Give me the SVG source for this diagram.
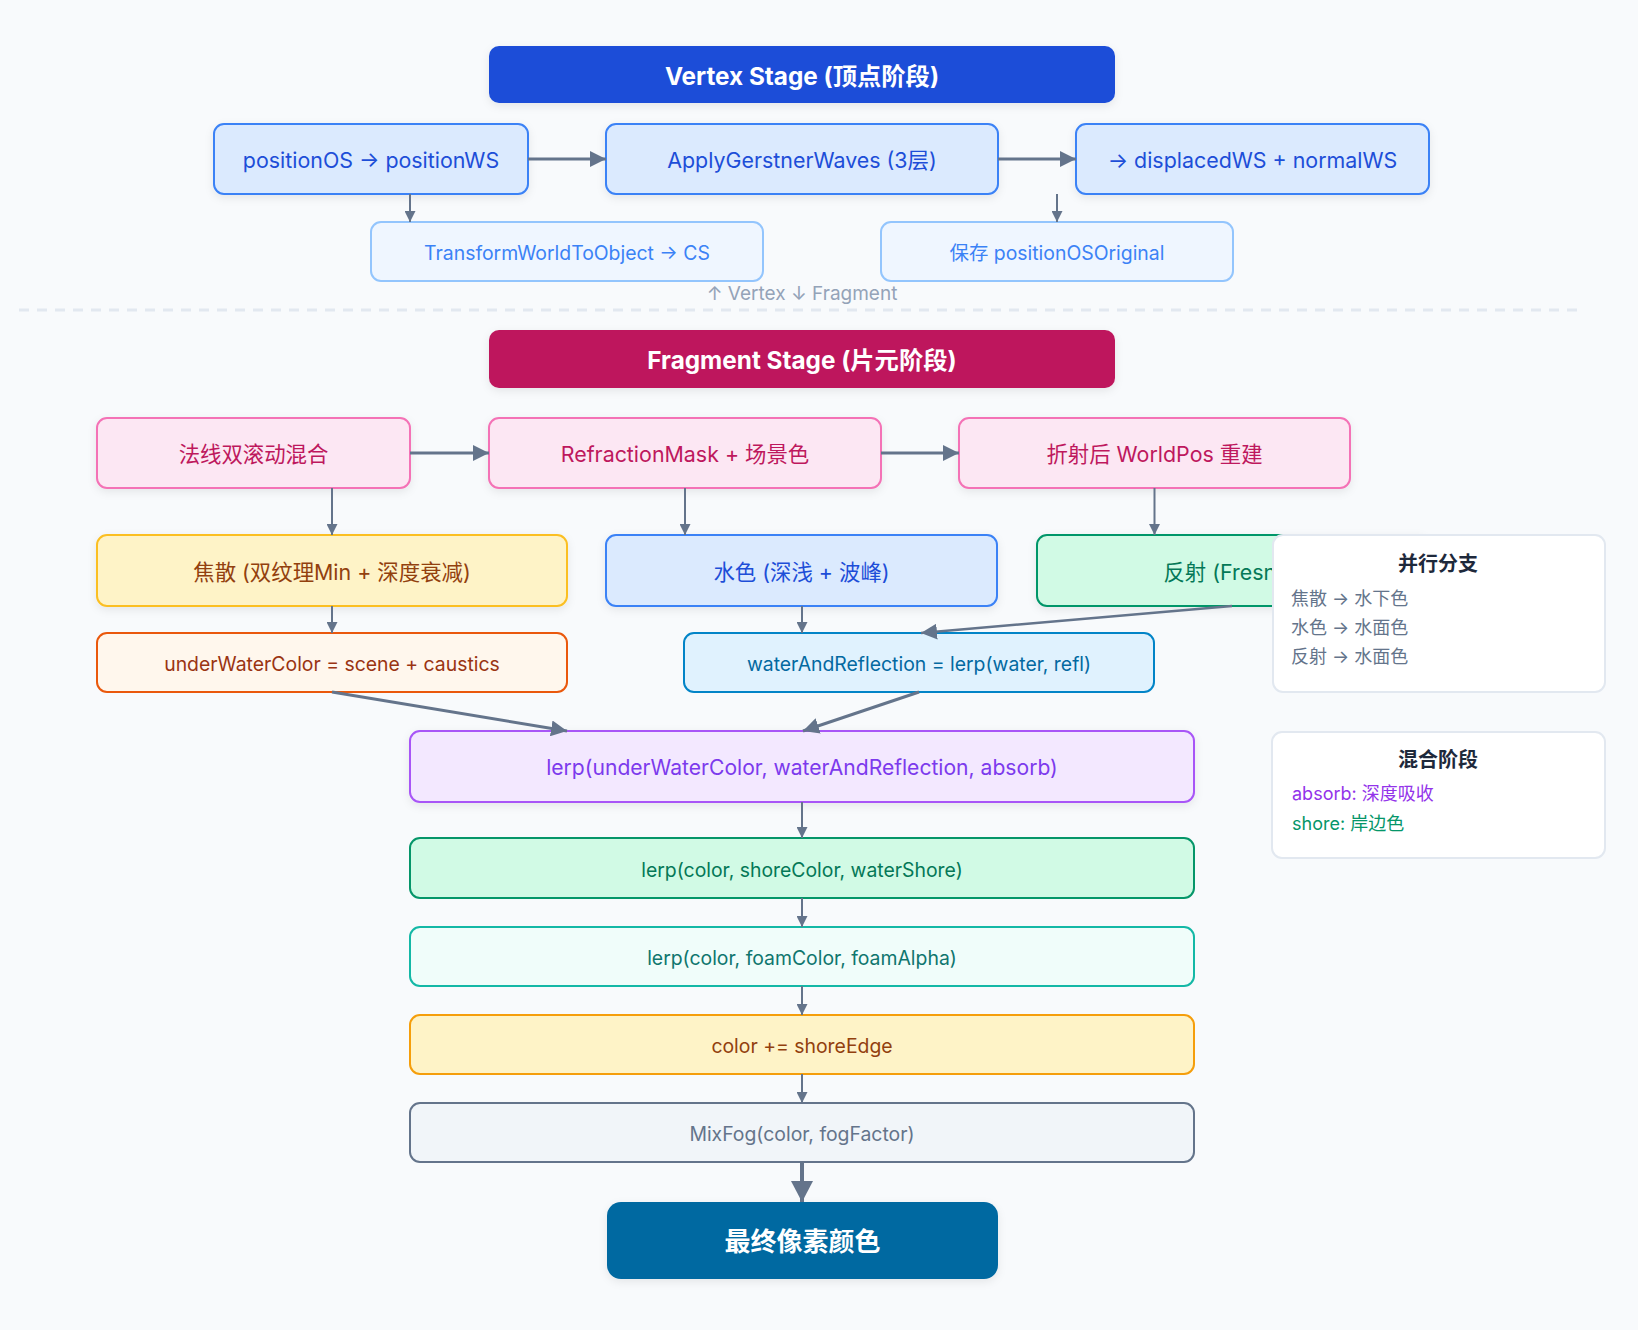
<svg xmlns="http://www.w3.org/2000/svg" width="1638" height="1330" viewBox="0 0 1638 1330">
<defs>
<style>
.t{font-family:Inter,"Noto Sans CJK SC",sans-serif;text-anchor:middle;dominant-baseline:central}
.b{stroke-width:2}
.hdr{font-weight:700;fill:#fff;font-size:24.3px}
.c{stroke:#64748b;fill:none}
.th{stroke-width:2}
.tk{stroke-width:3}
.r1{font-size:21.4px}
.r2{font-size:19.4px}
.lg{font-family:Inter,"Noto Sans CJK SC",sans-serif;font-size:18px}
</style>
<filter id="sh" x="-10%" y="-20%" width="120%" height="150%">
<feDropShadow dx="0" dy="3" stdDeviation="4" flood-color="#0f172a" flood-opacity="0.08"/>
</filter>
<marker id="a1" markerUnits="userSpaceOnUse" markerWidth="11" markerHeight="11" refX="11" refY="5.5" orient="auto"><path d="M0,0L11,5.5L0,11z" fill="#64748b"/></marker>
<marker id="a2" markerUnits="userSpaceOnUse" markerWidth="16" markerHeight="16" refX="16" refY="8" orient="auto"><path d="M0,0L16,8L0,16z" fill="#64748b"/></marker>
<marker id="a3" markerUnits="userSpaceOnUse" markerWidth="21" markerHeight="22" refX="21" refY="11" orient="auto"><path d="M0,0L21,11L0,22z" fill="#64748b"/></marker>
</defs>
<rect width="1638" height="1330" fill="#f8fafc"/>
<line x1="19" y1="310" x2="1577" y2="310" stroke="#e2e8f0" stroke-width="3" stroke-dasharray="10 8"/>
<text class="t" x="802" y="293" font-size="19" fill="#94a3b8">↑ Vertex ↓ Fragment</text>

<g id="vertex-header"><rect x="489" y="46" width="626" height="57" rx="10" fill="#1d4ed8" filter="url(#sh)"/><text class="t hdr" x="802" y="76">Vertex Stage (顶点阶段)</text></g>
<g id="v-position"><rect class="b" x="214" y="124" width="314" height="70" rx="10" fill="#dbeafe" stroke="#3b82f6" filter="url(#sh)"/><text class="t r1" x="371" y="160" fill="#1d4ed8">positionOS → positionWS</text></g>
<g id="v-gerstner"><rect class="b" x="606" y="124" width="392" height="70" rx="10" fill="#dbeafe" stroke="#3b82f6" filter="url(#sh)"/><text class="t r1" x="802" y="160" fill="#1d4ed8">ApplyGerstnerWaves (3层)</text></g>
<g id="v-displaced"><rect class="b" x="1076" y="124" width="353" height="70" rx="10" fill="#dbeafe" stroke="#3b82f6" filter="url(#sh)"/><text class="t r1" x="1252.5" y="160" fill="#1d4ed8">→ displacedWS + normalWS</text></g>
<g id="v-transform"><rect class="b" x="371" y="222" width="392" height="59" rx="10" fill="#eff6ff" stroke="#93c5fd"/><text class="t r2" x="567" y="253" fill="#3b82f6">TransformWorldToObject → CS</text></g>
<g id="v-save"><rect class="b" x="881" y="222" width="352" height="59" rx="10" fill="#eff6ff" stroke="#93c5fd"/><text class="t r2" x="1057" y="253" fill="#3b82f6">保存 positionOSOriginal</text></g>

<g id="fragment-header"><rect x="489" y="330" width="626" height="58" rx="10" fill="#be185d" filter="url(#sh)"/><text class="t hdr" x="802" y="360">Fragment Stage (片元阶段)</text></g>
<g id="f-normal"><rect class="b" x="97" y="418" width="313" height="70" rx="10" fill="#fce7f3" stroke="#f472b6" filter="url(#sh)"/><text class="t r1" x="253.5" y="454" fill="#be185d">法线双滚动混合</text></g>
<g id="f-refraction"><rect class="b" x="489" y="418" width="392" height="70" rx="10" fill="#fce7f3" stroke="#f472b6" filter="url(#sh)"/><text class="t r1" x="685" y="454" fill="#be185d">RefractionMask + 场景色</text></g>
<g id="f-worldpos"><rect class="b" x="959" y="418" width="391" height="70" rx="10" fill="#fce7f3" stroke="#f472b6" filter="url(#sh)"/><text class="t r1" x="1154.5" y="454" fill="#be185d">折射后 WorldPos 重建</text></g>
<g id="f-caustics"><rect class="b" x="97" y="535" width="470" height="71" rx="10" fill="#fef3c7" stroke="#fbbf24" filter="url(#sh)"/><text class="t r1" x="332" y="571.5" fill="#92400e">焦散 (双纹理Min + 深度衰减)</text></g>
<g id="f-watercolor"><rect class="b" x="606" y="535" width="391" height="71" rx="10" fill="#dbeafe" stroke="#3b82f6" filter="url(#sh)"/><text class="t r1" x="801.5" y="571.5" fill="#1d4ed8">水色 (深浅 + 波峰)</text></g>
<g id="f-reflection"><rect class="b" x="1037" y="535" width="391" height="71" rx="10" fill="#d1fae5" stroke="#059669" filter="url(#sh)"/><text class="t r1" x="1232.5" y="571.5" fill="#047857">反射 (Fresnel)</text></g>
<g id="f-underwater"><rect class="b" x="97" y="633" width="470" height="59" rx="10" fill="#fff7ed" stroke="#ea580c"/><text class="t r2" x="332" y="664" fill="#9a3412">underWaterColor = scene + caustics</text></g>
<g id="f-waterrefl"><rect class="b" x="684" y="633" width="470" height="59" rx="10" fill="#e0f2fe" stroke="#0284c7"/><text class="t r2" x="919" y="664" fill="#0369a1">waterAndReflection = lerp(water, refl)</text></g>
<g id="f-absorb"><rect class="b" x="410" y="731" width="784" height="71" rx="10" fill="#f3e8ff" stroke="#a855f7" filter="url(#sh)"/><text class="t" x="802" y="767.5" font-size="21.1" fill="#7c3aed">lerp(underWaterColor, waterAndReflection, absorb)</text></g>
<g id="f-shore"><rect class="b" x="410" y="838" width="784" height="60" rx="10" fill="#d1fae5" stroke="#059669"/><text class="t r2" x="802" y="870" fill="#047857">lerp(color, shoreColor, waterShore)</text></g>
<g id="f-foam"><rect class="b" x="410" y="927" width="784" height="59" rx="10" fill="#f0fdfa" stroke="#14b8a6"/><text class="t r2" x="802" y="958" fill="#0f766e">lerp(color, foamColor, foamAlpha)</text></g>
<g id="f-edge"><rect class="b" x="410" y="1015" width="784" height="59" rx="10" fill="#fef3c7" stroke="#f59e0b"/><text class="t r2" x="802" y="1046" fill="#92400e">color += shoreEdge</text></g>
<g id="f-fog"><rect class="b" x="410" y="1103" width="784" height="59" rx="10" fill="#f1f5f9" stroke="#64748b"/><text class="t r2" x="802" y="1134" fill="#64748b">MixFog(color, fogFactor)</text></g>
<g id="final"><rect x="607" y="1202" width="391" height="77" rx="14" fill="#0369a1" filter="url(#sh)"/><text class="t" x="802.5" y="1241" font-size="26" font-weight="700" fill="#fff">最终像素颜色</text></g>

<g id="connectors">
<line class="c tk" x1="528" y1="159" x2="606" y2="159" marker-end="url(#a2)"/>
<line class="c tk" x1="998" y1="159" x2="1076" y2="159" marker-end="url(#a2)"/>
<line class="c th" x1="410" y1="194" x2="410" y2="222" marker-end="url(#a1)"/>
<line class="c th" x1="1057" y1="194" x2="1057" y2="222" marker-end="url(#a1)"/>
<line class="c tk" x1="410" y1="453" x2="489" y2="453" marker-end="url(#a2)"/>
<line class="c tk" x1="881" y1="453" x2="959" y2="453" marker-end="url(#a2)"/>
<line class="c th" x1="332" y1="488" x2="332" y2="535" marker-end="url(#a1)"/>
<line class="c th" x1="685" y1="488" x2="685" y2="535" marker-end="url(#a1)"/>
<line class="c th" x1="1154.5" y1="488" x2="1154.5" y2="535" marker-end="url(#a1)"/>
<line class="c th" x1="332" y1="606" x2="332" y2="633" marker-end="url(#a1)"/>
<line class="c th" x1="802" y1="606" x2="802" y2="633" marker-end="url(#a1)"/>
<line class="c" stroke-width="2.5" x1="1232" y1="606" x2="921" y2="633" marker-end="url(#a2)"/>
<line class="c tk" x1="332" y1="692" x2="567" y2="731" marker-end="url(#a2)"/>
<line class="c tk" x1="919" y1="692" x2="803" y2="731" marker-end="url(#a2)"/>
<line class="c th" x1="802" y1="802" x2="802" y2="838" marker-end="url(#a1)"/>
<line class="c th" x1="802" y1="898" x2="802" y2="927" marker-end="url(#a1)"/>
<line class="c th" x1="802" y1="986" x2="802" y2="1015" marker-end="url(#a1)"/>
<line class="c th" x1="802" y1="1074" x2="802" y2="1103" marker-end="url(#a1)"/>
<line class="c" stroke-width="4" x1="802" y1="1162" x2="802" y2="1202" marker-end="url(#a3)"/>
</g>

<g id="legend-parallel"><rect x="1273" y="535" width="332" height="157" rx="10" fill="#fff" stroke="#e2e8f0" stroke-width="2"/>
<text class="t" x="1438" y="564" font-size="20" font-weight="700" fill="#1e293b">并行分支</text>
<text class="lg" x="1291" y="604.5" fill="#64748b">焦散 → 水下色</text>
<text class="lg" x="1291" y="634" fill="#64748b">水色 → 水面色</text>
<text class="lg" x="1291" y="663" fill="#64748b">反射 → 水面色</text></g>
<g id="legend-blend"><rect x="1272" y="732" width="333" height="126" rx="10" fill="#fff" stroke="#e2e8f0" stroke-width="2"/>
<text class="t" x="1438" y="760" font-size="20" font-weight="700" fill="#1e293b">混合阶段</text>
<text class="lg" x="1292" y="800" fill="#9333ea">absorb: 深度吸收</text>
<text class="lg" x="1292" y="830" fill="#059669">shore: 岸边色</text></g>
</svg>
